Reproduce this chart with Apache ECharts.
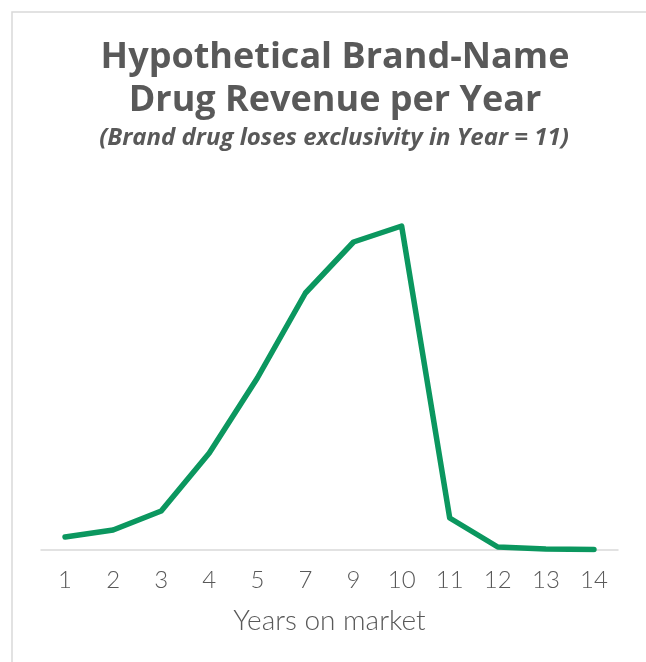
<!DOCTYPE html>
<html>
<head>
<meta charset="utf-8">
<script src="https://cdn.jsdelivr.net/npm/echarts@6/dist/echarts.min.js"></script>
<style>
html,body{margin:0;padding:0;background:#fff;}
#chart{width:646px;height:662px;}
</style>
</head>
<body>
<div id="chart"></div>
<script>
const categories = ['1','2','3','4','5','7','9','10','11','12','13','14'];
const revenue = [13, 20, 39, 97, 172, 257, 308, 324, 32, 3, 1, 0.5];
const titleText = 'Hypothetical Brand-Name\nDrug Revenue per Year';
const subtitleText = '(Brand drug loses exclusivity in Year = 11)';
const xAxisName = 'Years on market';

const chart = echarts.init(document.getElementById('chart'), null, {renderer: 'canvas'});
chart.setOption({
  animation: false,
  backgroundColor: '#ffffff',
  graphic: [{
    type: 'rect',
    shape: {x: 12, y: 12, width: 700, height: 700},
    style: {fill: 'none', stroke: '#d9d9d9', lineWidth: 1.5},
    silent: true
  }],
  title: [{
    text: titleText,
    left: 330,
    top: 31,
    textAlign: 'center',
    textStyle: {
      fontFamily: 'Open Sans',
      fontWeight: 'bold',
      fontSize: 36,
      lineHeight: 43,
      color: '#595959'
    }
  }, {
    text: subtitleText,
    left: 329,
    top: 121,
    textAlign: 'center',
    textStyle: {
      fontFamily: 'Open Sans',
      fontWeight: 'bold',
      fontStyle: 'italic',
      fontSize: 24,
      color: '#595959'
    }
  }],
  grid: {left: 41, right: 28, top: 200, bottom: 112, containLabel: false},
  xAxis: {
    type: 'category',
    data: categories,
    boundaryGap: true,
    axisLine: {lineStyle: {color: '#d9d9d9', width: 1.5}},
    axisTick: {show: false},
    axisLabel: {color: '#595959', fontFamily: 'Lato', fontWeight: 300, fontSize: 24, margin: 18},
    name: xAxisName,
    nameLocation: 'middle',
    nameGap: 57,
    nameTextStyle: {color: '#595959', fontFamily: 'Lato', fontWeight: 300, fontSize: 28}
  },
  yAxis: {
    type: 'value',
    min: 0,
    max: 350,
    show: false,
    splitLine: {show: false}
  },
  series: [{
    type: 'line',
    data: revenue,
    symbol: 'none',
    lineStyle: {color: '#0b975f', width: 5.5, cap: 'round', join: 'round'},
    itemStyle: {color: '#0b975f'}
  }]
});
</script>
</body>
</html>
